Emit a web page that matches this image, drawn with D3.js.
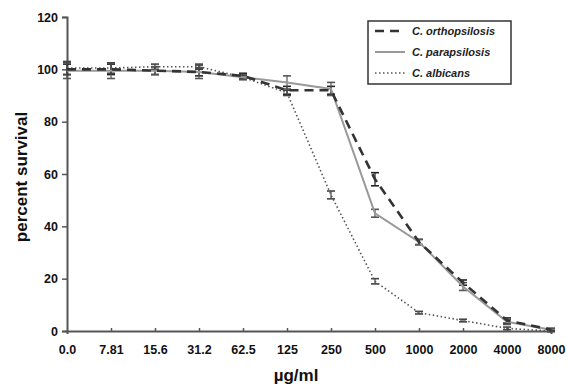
<!DOCTYPE html>
<html>
<head>
<meta charset="utf-8">
<script src="https://cdn.jsdelivr.net/npm/d3@7"></script>
<style>
  body { margin: 0; background: #fff; }
  text { font-family: "Liberation Sans", Arial, sans-serif; }
</style>
</head>
<body>
<script>
var doses = ["0.0","7.81","15.6","31.2","62.5","125","250","500","1000","2000","4000","8000"];
var ortho = [100, 100, 99.5, 99, 97.5, 92, 92, 58, 34, 18.5, 4, 0.5];
var orthoErr = [2, 2, 1.5, 1.5, 1, 1.5, 1.5, 2.5, 1, 1, 1, 0.5];
var para = [99.5, 99.5, 99.5, 99, 97, 95, 92.5, 45, 34, 17, 3.5, 0.5];
var paraErr = [3, 3, 1.5, 2.5, 1, 2.5, 2.5, 1.5, 1, 1.5, 1, 0.5];
var albi = [100.5, 100.5, 101, 101, 97, 91, 52, 19, 7, 4, 1, 0];
var albiErr = [2.5, 2, 1, 1, 0.5, 1, 1.5, 1, 0.5, 0.5, 0.5, 0.3];
var yTicks = [0, 20, 40, 60, 80, 100, 120];

var width = 568, height = 388;
var svg = d3.select("body").append("svg").attr("width", width).attr("height", height);

var x = d3.scalePoint().domain(doses).range([67, 551]);
var y = d3.scaleLinear().domain([0, 120]).range([331, 17]);

var series = [
  {name: "C. orthopsilosis", vals: ortho, err: orthoErr, color: "#333", w: 2.6, dash: "9,6", capColor: "#222"},
  {name: "C. parapsilosis", vals: para, err: paraErr, color: "#999", w: 2, dash: null, capColor: "#555"},
  {name: "C. albicans", vals: albi, err: albiErr, color: "#555", w: 1.6, dash: "1.5,2.5", capColor: "#444"}
];

// axes
var yAxis = d3.axisLeft(y).tickValues(yTicks).tickSize(5).tickPadding(4);
var gy = svg.append("g").attr("transform", "translate(67,0)").call(yAxis);
var xAxis = d3.axisBottom(x).tickSize(3).tickPadding(11);
var gx = svg.append("g").attr("transform", "translate(0,331)").call(xAxis);
[gx, gy].forEach(function(g) {
  g.select(".domain").attr("stroke", "#555").attr("stroke-width", 2);
  g.selectAll(".tick line").attr("stroke", "#555").attr("stroke-width", 1.5);
  g.selectAll("text").attr("fill", "#111").style("font-size", "12.5px").style("font-weight", "bold")
    .style("font-family", "Liberation Sans, Arial, sans-serif");
});
gx.selectAll(".tick line").attr("y2", -3);
gx.selectAll(".tick").filter(function(d, i) { return i == 0; }).select("line").remove();

var line = d3.line().x(function(d, i) { return x(doses[i]); }).y(function(d) { return y(d); });

series.forEach(function(s) {
  // error bars
  var g = svg.append("g");
  s.vals.forEach(function(v, i) {
    var cx = x(doses[i]), e = s.err[i];
    g.append("line").attr("x1", cx).attr("x2", cx).attr("y1", y(v - e)).attr("y2", y(v + e))
      .attr("stroke", s.capColor).attr("stroke-width", 1.2);
    [v - e, v + e].forEach(function(t) {
      g.append("line").attr("x1", cx - 4).attr("x2", cx + 4).attr("y1", y(t)).attr("y2", y(t))
        .attr("stroke", s.capColor).attr("stroke-width", 1.6);
    });
  });
});

series.slice().reverse().forEach(function(s) {
  svg.append("path").datum(s.vals).attr("d", line).attr("fill", "none")
    .attr("stroke", s.color).attr("stroke-width", s.w)
    .attr("stroke-dasharray", s.dash);
});

// legend
var lg = svg.append("g");
lg.append("rect").attr("x", 368).attr("y", 21).attr("width", 143).attr("height", 63)
  .attr("fill", "#fff").attr("stroke", "#333").attr("stroke-width", 1.5);
series.forEach(function(s, i) {
  var ly = 31 + i * 21;
  lg.append("line").attr("x1", 375).attr("x2", 405).attr("y1", ly).attr("y2", ly)
    .attr("stroke", s.color).attr("stroke-width", s.w).attr("stroke-dasharray", s.dash);
  lg.append("text").attr("x", 412).attr("y", ly + 4).text(s.name)
    .style("font-size", "11px").style("font-style", "italic").style("font-weight", "bold").attr("fill", "#222");
});

// axis titles
svg.append("text").attr("transform", "translate(27,177) rotate(-90)").attr("text-anchor", "middle")
  .style("font-size", "17px").style("font-weight", "bold").attr("fill", "#111").text("percent survival");
svg.append("text").attr("x", 296).attr("y", 381).attr("text-anchor", "middle")
  .style("font-size", "17px").style("font-weight", "bold").attr("fill", "#111").text("µg/ml");
</script>
</body>
</html>
